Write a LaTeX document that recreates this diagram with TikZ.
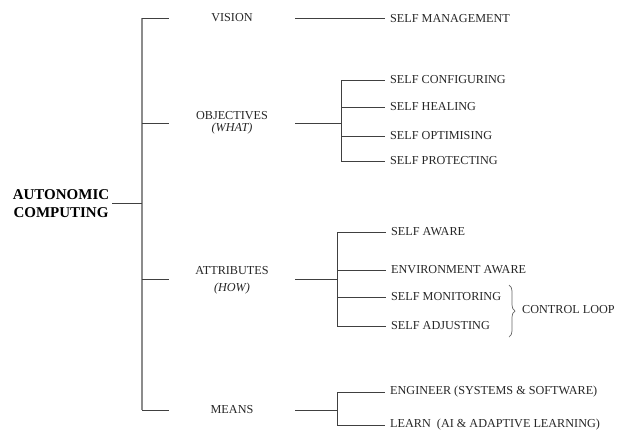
\documentclass[tikz,border=0pt]{standalone}
\usepackage{fontspec}
\setmainfont{Liberation Serif}
\usetikzlibrary{decorations.pathreplacing}
\begin{document}
\begin{tikzpicture}[x=1pt,y=-1pt,
  trunk/.style={draw=black!45, line width=1.8pt},
  link/.style={draw=black!75, line width=0.9pt},
  cat/.style={inner sep=0pt, minimum width=126pt, align=center,
    font=\fontsize{12.2}{14.6}\selectfont, text=black!85},
  leaf/.style={anchor=west, inner xsep=5pt, inner ysep=0pt,
    font=\fontsize{12.2}{14.6}\selectfont, text=black!85},
  root/.style={align=center, inner xsep=3pt, inner ysep=0pt,
    font=\bfseries\fontsize{15}{18}\selectfont}]
\useasboundingbox (0,0) rectangle (622,432);

% root and main trunk
\node[root] (ac) at (61,204) {AUTONOMIC\\COMPUTING};
\coordinate (t0) at (142,18);
\coordinate (t1) at (142,123);
\coordinate (t2) at (142,279);
\coordinate (t3) at (142,410);
\coordinate (tr) at (142,203);
\draw[trunk] (t0) -- (t3);
\draw[link] (ac.east|-tr) -- (tr);

% categories
\node[cat] (vision) at (232,18) {VISION};
\node[cat] (obj) at (232,123) {OBJECTIVES\\[-2.6pt]\textit{(WHAT)}};
\node[cat] (attr) at (232,280) {ATTRIBUTES\\[2.4pt]\textit{(HOW)}};
\node[cat] (means) at (232,410) {MEANS};
\draw[link] (t0) -- (vision.west|-t0);
\draw[link] (t1) -- (obj.west|-t1);
\draw[link] (t2) -- (attr.west|-t2);
\draw[link] (t3) -- (means.west|-t3);

% vision
\node[leaf] (mgmt) at (385,19) {SELF MANAGEMENT};
\draw[link] (vision.east|-t0) -- (mgmt.west|-t0);

% objectives
\node[leaf] (cfg) at (385,80) {SELF CONFIGURING};
\node[leaf] (heal) at (385,107) {SELF HEALING};
\node[leaf] (opt) at (385,136) {SELF OPTIMISING};
\node[leaf] (prot) at (385,161) {SELF PROTECTING};
\coordinate (jo) at (341,123);
\draw[link] (obj.east|-jo) -- (jo);
\draw[link] (jo|-cfg) -- (jo|-prot);
\foreach \n in {cfg,heal,opt,prot} \draw[link] (jo|-\n) -- (\n.west);

% attributes
\node[leaf] (aware) at (386,232) {SELF AWARE};
\node[leaf] (env) at (386,270) {ENVIRONMENT AWARE};
\node[leaf] (mon) at (386,297) {SELF MONITORING};
\node[leaf] (adj) at (386,326) {SELF ADJUSTING};
\coordinate (ja) at (337,279);
\draw[link] (attr.east|-ja) -- (ja);
\draw[link] (ja|-aware) -- (ja|-adj);
\foreach \n in {aware,env,mon,adj} \draw[link] (ja|-\n) -- (\n.west);

% control loop brace
\coordinate (bt) at (509,285);
\coordinate (bb) at (509,337);
\draw[decorate, decoration={brace, amplitude=6pt}, draw=black!60, line width=0.7pt] (bt) -- (bb);
\node[leaf] (loop) at (517,310) {CONTROL LOOP};

% means
\node[leaf] (eng) at (385,392) {ENGINEER (SYSTEMS \& SOFTWARE)};
\node[leaf] (learn) at (385,425) {LEARN\ \ (AI \& ADAPTIVE LEARNING)};
\coordinate (jm) at (337,410);
\draw[link] (means.east|-jm) -- (jm);
\draw[link] (jm|-eng) -- (jm|-learn);
\foreach \n in {eng,learn} \draw[link] (jm|-\n) -- (\n.west);
\end{tikzpicture}
\end{document}
